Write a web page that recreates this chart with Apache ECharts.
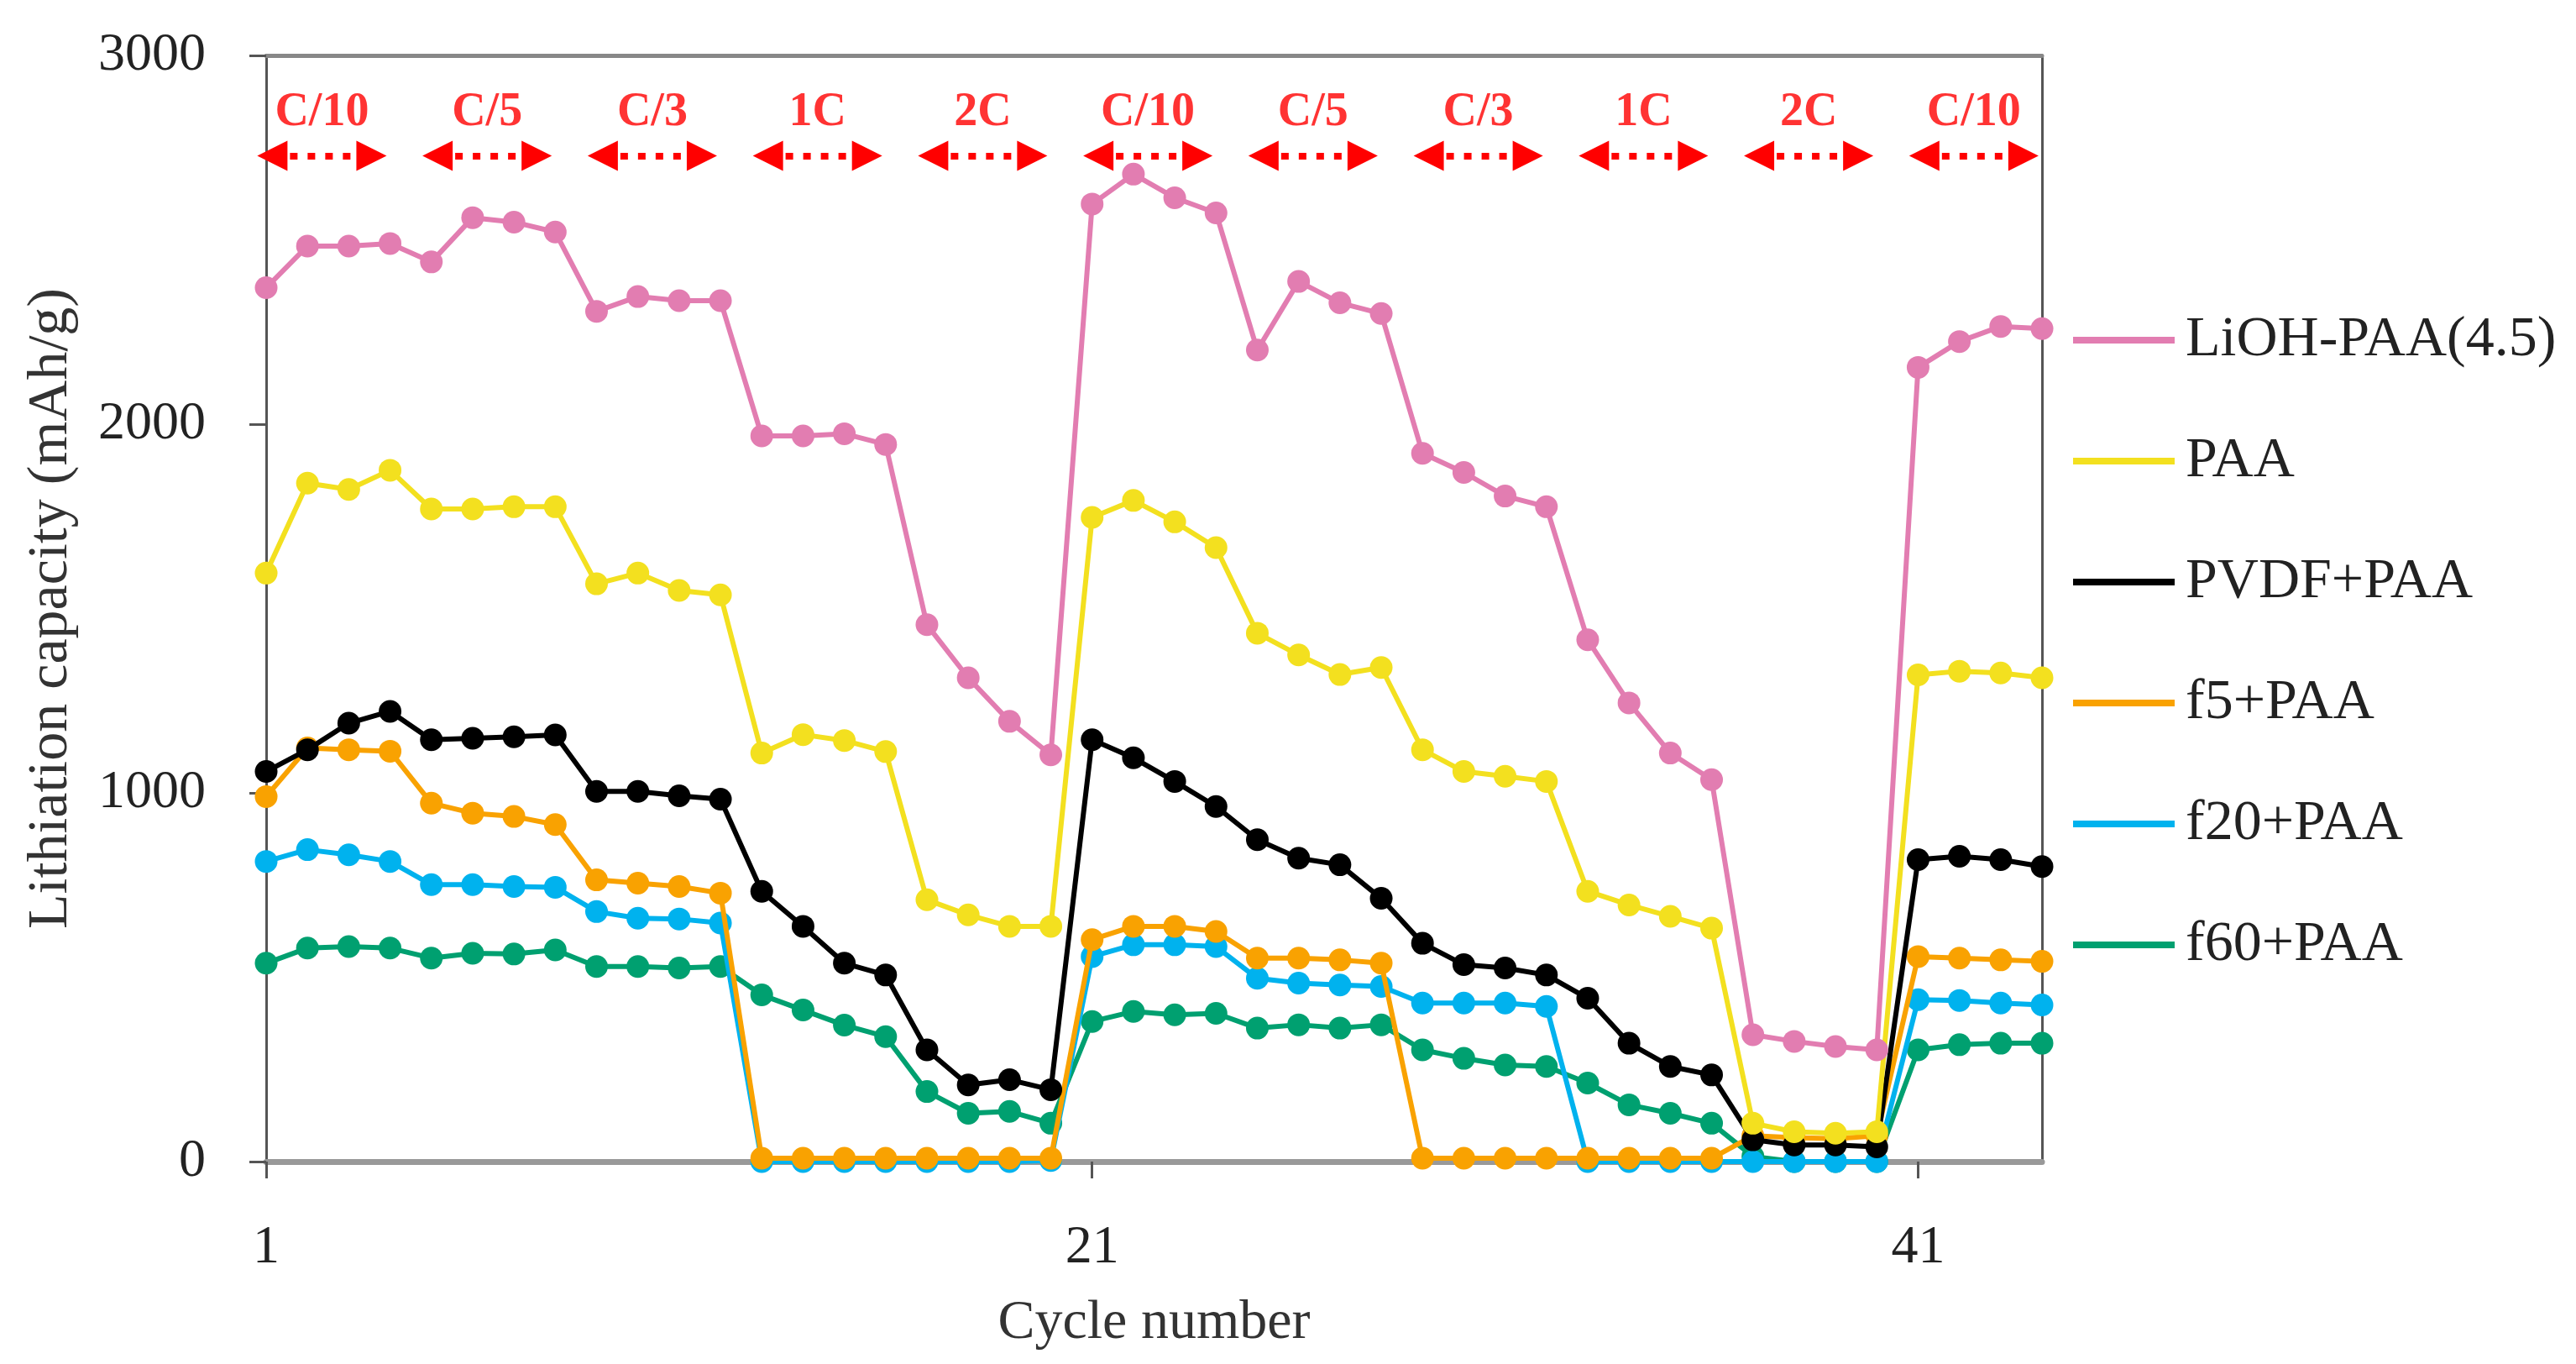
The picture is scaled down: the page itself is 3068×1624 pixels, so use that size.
<!DOCTYPE html>
<html>
<head>
<meta charset="utf-8">
<script src="https://cdn.jsdelivr.net/npm/echarts@6/dist/echarts.min.js"></script>
<style>
  html, body { margin: 0; padding: 0; background: #fff; }
  #chart { width: 3068px; height: 1624px; }
</style>
</head>
<body>
<div id="chart"></div>
<script>
// cycle numbers (x categories)
const cycles = ["1","2","3","4","5","6","7","8","9","10","11","12","13","14","15","16","17","18","19","20",
  "21","22","23","24","25","26","27","28","29","30","31","32","33","34","35","36","37","38","39","40",
  "41","42","43","44"];

// lithiation capacity (mAh/g)
const lioh = [2370,2483,2483,2490,2440,2560,2548,2521,2306,2346,2335,2335,1968,1968,1974,1945,1456,1312,1194,1103,
  2597,2678,2614,2573,2201,2387,2329,2300,1921,1869,1805,1776,1415,1244,1108,1036,344,326,312,303,
  2154,2224,2265,2259];
const paa = [1596,1840,1823,1875,1770,1770,1776,1776,1567,1596,1549,1537,1108,1158,1142,1112,710,669,638,638,
  1747,1793,1735,1665,1433,1374,1321,1340,1117,1058,1045,1031,733,696,665,633,104,81,77,81,
  1320,1330,1325,1312];
const pvdf = [1058,1117,1189,1221,1144,1148,1152,1157,1004,1004,992,983,733,638,538,506,303,208,222,195,
  1144,1095,1031,963,873,823,805,714,592,534,525,506,443,321,258,235,59,45,45,40,
  819,828,819,800];
const f5 = [990,1122,1117,1113,972,945,936,914,764,755,746,728,9,9,9,9,9,9,9,9,
  602,638,638,624,552,552,547,538,9,9,9,9,9,9,9,9,70,65,62,70,
  556,552,547,543];
const f20 = [814,846,832,814,751,751,746,744,678,660,658,647,0,0,0,0,0,0,0,3,
  556,588,588,583,497,484,479,475,430,430,430,421,0,0,0,0,0,0,0,0,
  439,437,430,425];
const f60 = [538,579,583,579,552,565,563,574,529,529,525,529,452,411,370,339,190,131,136,104,
  380,407,398,402,362,371,362,371,303,280,262,258,213,154,131,104,14,0,0,0,
  303,317,321,321];

const seriesNames = ["LiOH-PAA(4.5)", "PAA", "PVDF+PAA", "f5+PAA", "f20+PAA", "f60+PAA"];
const seriesData = [lioh, paa, pvdf, f5, f20, f60];
const colors = ["#e27db1", "#f3e01f", "#000000", "#f9a201", "#00b2ee", "#00a070"];

// C-rate steps (first and last cycle of each step)
const rateLabels = ["C/10","C/5","C/3","1C","2C","C/10","C/5","C/3","1C","2C","C/10"];
const rateStart = [1,5,9,13,17,21,25,29,33,37,41];
const rateEnd = [4,8,12,16,20,24,28,32,36,40,44];

const yTicks = [0, 1000, 2000, 3000];

const font = "Liberation Serif";
const labelY = 2843;
const arrowY = 2728;

const chart = echarts.init(document.getElementById("chart"));

const lineSeries = seriesNames.map((name, i) => ({
  name: name,
  type: "line",
  data: seriesData[i],
  xAxisIndex: 0,
  yAxisIndex: 0,
  z: 10 - i,
  symbol: "circle",
  symbolSize: 27,
  itemStyle: { color: colors[i] },
  lineStyle: { color: colors[i], width: 6 },
  emphasis: { disabled: true },
}));

const rateMid = (i) => (rateStart[i] + rateEnd[i]) / 2 - 0.15;
// arrows must stay inside the axis range or echarts drops them
const arrowFrom = (i) => Math.max(rateMid(i) - 1.2, 1.05);
const arrowTo = (i) => Math.min(rateMid(i) + 1.2, 43.95);

const rateSeries = {
  name: "rates",
  type: "scatter",
  xAxisIndex: 1,
  yAxisIndex: 0,
  z: 12,
  clip: false,
  symbolSize: 0,
  silent: true,
  data: rateLabels.map((t, i) => ({ name: t, value: [rateMid(i), labelY] })),
  label: {
    show: true,
    position: "inside",
    formatter: "{b}",
    color: "#ff0000",
    fontFamily: font,
    fontWeight: "bold",
    fontSize: 56,
  },
  markLine: {
    silent: true,
    symbol: ["triangle", "triangle"],
    symbolSize: 36,
    label: { show: false },
    lineStyle: { color: "#ff0000", width: 8, type: [9, 12], opacity: 1 },
    data: rateLabels.map((t, i) => [
      { coord: [arrowFrom(i), arrowY] },
      { coord: [arrowTo(i), arrowY] },
    ]),
  },
};

const option = {
  animation: false,
  backgroundColor: "#fff",
  grid: { left: 317, right: 636, top: 66, bottom: 241 },
  legend: {
    data: seriesNames,
    orient: "vertical",
    left: 2464,
    top: 366,
    itemGap: 76,
    icon: "rect",
    itemWidth: 121,
    itemHeight: 8,
    selectedMode: false,
    textStyle: {
      fontFamily: font,
      fontSize: 68,
      color: "#222",
      lineHeight: 62,
      padding: [0, 0, 0, 8],
    },
  },
  xAxis: [
    {
      type: "category",
      data: cycles,
      boundaryGap: false,
      position: "bottom",
      name: "Cycle number",
      nameLocation: "middle",
      nameGap: 160,
      nameTextStyle: { fontFamily: font, fontSize: 66, color: "#333" },
      axisLine: { show: true, lineStyle: { color: "#999", width: 7 } },
      axisTick: {
        show: true,
        interval: (idx) => idx % 20 === 0,
        length: 20,
        lineStyle: { color: "#555", width: 3 },
      },
      axisLabel: {
        interval: (idx) => idx % 20 === 0,
        margin: 71,
        fontFamily: font,
        fontSize: 64,
        color: "#222",
      },
      splitLine: { show: false },
    },
    {
      type: "value",
      min: 1,
      max: 44,
      position: "top",
      axisLine: { show: true, onZero: false, lineStyle: { color: "#888", width: 5 } },
      axisTick: { show: false },
      axisLabel: { show: false },
      splitLine: { show: false },
    },
  ],
  yAxis: [
    {
      type: "value",
      min: yTicks[0],
      max: yTicks[yTicks.length - 1],
      interval: 1000,
      name: "Lithiation capacity (mAh/g)",
      nameLocation: "middle",
      nameGap: 222,
      nameTextStyle: { fontFamily: font, fontSize: 68, color: "#333" },
      axisLine: { show: true, onZero: false, lineStyle: { color: "#555", width: 3 } },
      axisTick: { show: true, inside: false, length: 20, lineStyle: { color: "#555", width: 3 } },
      axisLabel: {
        margin: 72,
        fontFamily: font,
        fontSize: 64,
        color: "#222",
        formatter: (v) => String(v),
      },
      splitLine: { show: false },
    },
    {
      type: "value",
      min: 0,
      max: 3000,
      position: "right",
      axisLine: { show: true, onZero: false, lineStyle: { color: "#555", width: 3 } },
      axisTick: { show: false },
      axisLabel: { show: false },
      splitLine: { show: false },
    },
  ],
  series: lineSeries.concat([rateSeries]),
};

chart.setOption(option);
</script>
</body>
</html>
